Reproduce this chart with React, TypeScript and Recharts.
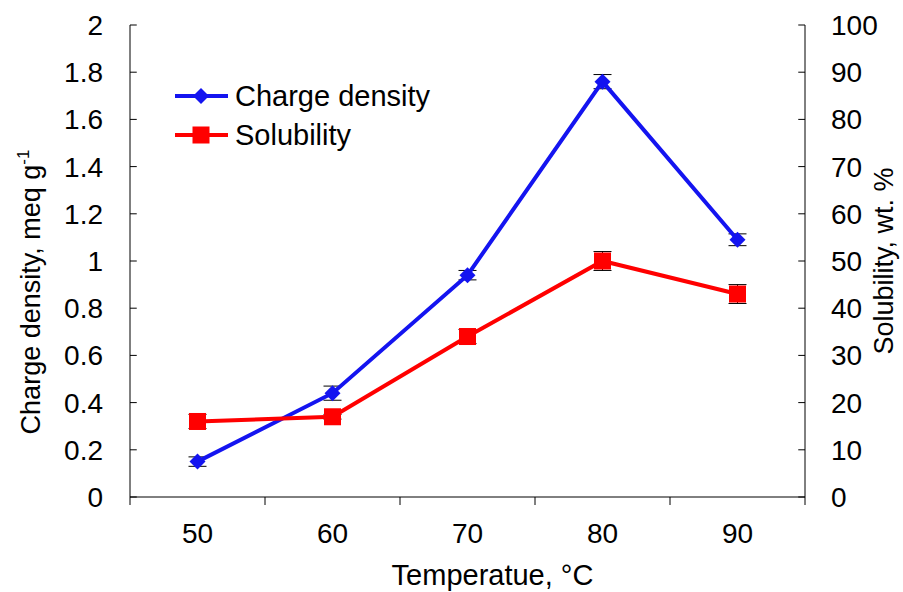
import React from 'react';
import { ComposedChart, Line, XAxis, YAxis, ErrorBar, ReferenceLine } from 'recharts';

const temps = [50, 60, 70, 80, 90];
const chargeDensity = [0.15, 0.44, 0.94, 1.76, 1.09];
const chargeErr = [0.02, 0.03, 0.02, 0.03, 0.025];
const solubility = [16, 17, 34, 50, 43];
const solubilityErr = [1.5, 0.5, 1.5, 2, 2];
const leftTicks = [0, 0.2, 0.4, 0.6, 0.8, 1, 1.2, 1.4, 1.6, 1.8, 2];
const rightTicks = [0, 10, 20, 30, 40, 50, 60, 70, 80, 90, 100];
const boundaryTicks = [45, 55, 65, 75, 85, 95];

const BLUE = '#1414f0';
const RED = '#ff0000';
const FONT = 'Liberation Sans, Arial, sans-serif';
const X_MIN = 45;
const X_MAX = 95;
const MARK = 0.5; // inward tick length, in x units

const data = temps.map((t, i) => ({
  temp: t,
  cd: chargeDensity[i],
  cdErr: chargeErr[i],
  sol: solubility[i],
  solErr: solubilityErr[i],
}));

const Diamond = (props: any) => {
  const { cx, cy } = props;
  if (cx == null || cy == null) return null;
  const r = 8;
  return <polygon points={`${cx},${cy - r} ${cx + r},${cy} ${cx},${cy + r} ${cx - r},${cy}`} fill={BLUE} />;
};

const Square = (props: any) => {
  const { cx, cy } = props;
  if (cx == null || cy == null) return null;
  return <rect x={cx - 8.5} y={cy - 8.5} width={17} height={17} fill={RED} />;
};

const NoTick = () => <g />;

// legend sits inside the plot, top-left
const LegendBox = () => (
  <svg width={280} height={80} style={{ position: 'absolute', left: 170, top: 78, overflow: 'visible' }}>
    <line x1={5} x2={58} y1={18} y2={18} stroke={BLUE} strokeWidth={4} />
    <Diamond cx={31} cy={18} />
    <text x={65} y={28} fontSize={29} fontFamily={FONT} fill="#000">Charge density</text>
    <line x1={5} x2={58} y1={57} y2={57} stroke={RED} strokeWidth={4} />
    <Square cx={31} cy={57} />
    <text x={65} y={67} fontSize={29} fontFamily={FONT} fill="#000">Solubility</text>
  </svg>
);

const tickStyle = { fill: '#000', fontSize: 28, fontFamily: FONT };

export default function App() {
  return (
    <div style={{ position: 'absolute', left: 0, top: 0, width: 903, height: 592, background: '#fff' }}>
      <ComposedChart width={903} height={592} data={data} margin={{ top: 25, right: 18, bottom: 5, left: 30 }}>
        <XAxis
          xAxisId="grid"
          dataKey="temp"
          type="number"
          domain={[X_MIN, X_MAX]}
          ticks={boundaryTicks}
          tick={<NoTick />}
          tickSize={8}
          height={10}
          stroke="#000"
        />
        <XAxis
          xAxisId="lab"
          dataKey="temp"
          type="number"
          domain={[X_MIN, X_MAX]}
          ticks={temps}
          axisLine={false}
          tickLine={false}
          tick={tickStyle}
          tickMargin={10}
          height={80}
          label={(p: any) => {
            const vb = p.viewBox;
            return (
              <text x={vb.x + vb.width / 2 + 25} y={585} textAnchor="middle" fontSize={29} fontFamily={FONT} fill="#000">
                Temperatue, °C
              </text>
            );
          }}
        />
        <YAxis
          yAxisId="left"
          domain={[0, 2]}
          ticks={leftTicks}
          tick={tickStyle}
          tickLine={false}
          tickSize={0}
          tickMargin={27}
          width={100}
          stroke="#000"
          interval={0}
          label={(p: any) => {
            const vb = p.viewBox;
            const cx = vb.x + 10;
            const cy = 292;
            return (
              <text x={cx} y={cy} transform={`rotate(-90 ${cx} ${cy})`} textAnchor="middle" fontSize={27} fontFamily={FONT} fill="#000">
                Charge density, meq g<tspan dy={-11} fontSize={17}>-1</tspan>
              </text>
            );
          }}
        />
        <YAxis
          yAxisId="right"
          orientation="right"
          domain={[0, 100]}
          ticks={rightTicks}
          tick={tickStyle}
          tickLine={false}
          tickSize={0}
          tickMargin={26}
          width={80}
          stroke="#000"
          interval={0}
          label={(p: any) => {
            const vb = p.viewBox;
            const cx = vb.x + vb.width + 8;
            const cy = vb.y + vb.height / 2;
            return (
              <text x={cx} y={cy} transform={`rotate(-90 ${cx} ${cy})`} textAnchor="middle" fontSize={27} fontFamily={FONT} fill="#000">
                Solubility, wt. %
              </text>
            );
          }}
        />
        {/* inward tick marks on both value axes */}
        {leftTicks.map((v) => (
          <ReferenceLine
            key={`lt-${v}`}
            xAxisId="lab"
            yAxisId="left"
            segment={[{ x: X_MIN, y: v }, { x: X_MIN + MARK, y: v }]}
            stroke="#000"
            strokeWidth={1}
            ifOverflow="visible"
          />
        ))}
        {rightTicks.map((v) => (
          <ReferenceLine
            key={`rt-${v}`}
            xAxisId="lab"
            yAxisId="right"
            segment={[{ x: X_MAX - MARK, y: v }, { x: X_MAX, y: v }]}
            stroke="#000"
            strokeWidth={1}
            ifOverflow="visible"
          />
        ))}
        <Line
          xAxisId="lab"
          yAxisId="left"
          dataKey="cd"
          stroke={BLUE}
          strokeWidth={4}
          dot={<Diamond />}
          activeDot={false}
          isAnimationActive={false}
        >
          <ErrorBar dataKey="cdErr" width={9} stroke="#000" strokeWidth={1} direction="y" />
        </Line>
        <Line
          xAxisId="lab"
          yAxisId="right"
          dataKey="sol"
          stroke={RED}
          strokeWidth={4}
          dot={<Square />}
          activeDot={false}
          isAnimationActive={false}
        >
          <ErrorBar dataKey="solErr" width={9} stroke="#000" strokeWidth={1} direction="y" />
        </Line>
      </ComposedChart>
      <LegendBox />
    </div>
  );
}
